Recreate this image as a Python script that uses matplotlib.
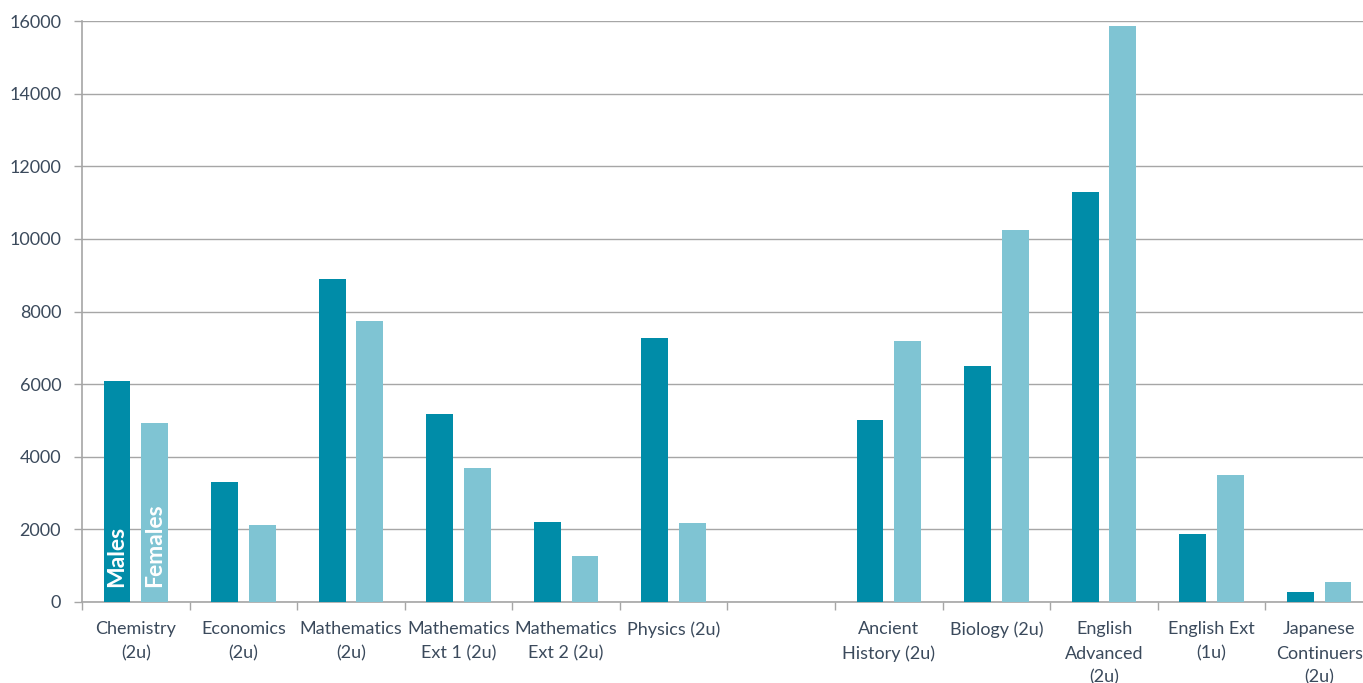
import matplotlib
matplotlib.use("Agg")
import matplotlib.pyplot as plt
import numpy as np

categories = ["Chemistry\n(2u)", "Economics\n(2u)", "Mathematics\n(2u)", "Mathematics\nExt 1 (2u)",
              "Mathematics\nExt 2 (2u)", "Physics (2u)", "", "Ancient\nHistory (2u)", "Biology (2u)",
              "English\nAdvanced\n(2u)", "English Ext\n(1u)", "Japanese\nContinuers\n(2u)"]
males = [6080, 3300, 8890, 5180, 2200, 7270, 0, 5010, 6500, 11290, 1870, 275]
females = [4930, 2120, 7740, 3690, 1270, 2180, 0, 7190, 10245, 15860, 3500, 550]
yticks = [0, 2000, 4000, 6000, 8000, 10000, 12000, 14000, 16000]

plt.rcParams['font.family'] = ['Lato', 'DejaVu Sans']
male_c = "#008CA8"
female_c = "#7FC4D3"
text_c = "#3B4A5C"
grid_c = "#A6A6A6"

fig = plt.figure(figsize=(13.63, 6.83), dpi=100)
W, H = 1363, 683
ax = fig.add_axes([82 / W, 1 - 602 / H, (1373 - 82) / W, (602 - 21) / H])

x = np.arange(len(categories))
bw = 0.25
ax.bar(x - 0.175, males, bw, color=male_c, zorder=3)
ax.bar(x + 0.175, females, bw, color=female_c, zorder=3)

ax.set_xlim(-0.5, len(categories) - 0.5)
ax.set_ylim(0, 16000)
ax.set_yticks(yticks)
ax.set_yticklabels([str(v) for v in yticks], fontsize=13, color=text_c)
ax.yaxis.grid(True, color=grid_c, linewidth=1, zorder=0)
ax.tick_params(axis='y', length=6, color=grid_c, width=1, pad=9)

ax.set_xticks(x)
ax.set_xticklabels(categories, fontsize=13, color=text_c, linespacing=1.62, va='top')
ax.tick_params(axis='x', length=0, pad=14)
ax.set_xticks(np.arange(len(categories) + 1) - 0.5, minor=True)
ax.tick_params(axis='x', which='minor', length=6, color=grid_c, width=1)

for s in ['top', 'right']:
    ax.spines[s].set_visible(False)
for s in ['left', 'bottom']:
    ax.spines[s].set_color(grid_c)
    ax.spines[s].set_linewidth(1.2)

ax.text(x[0] - 0.175, 420, "Males", rotation=90, color='white', fontsize=16.5,
        fontweight='bold', ha='center', va='bottom', zorder=4)
ax.text(x[0] + 0.175, 420, "Females", rotation=90, color='white', fontsize=16.5,
        fontweight='bold', ha='center', va='bottom', zorder=4)

fig.savefig("out.png", dpi=100)
